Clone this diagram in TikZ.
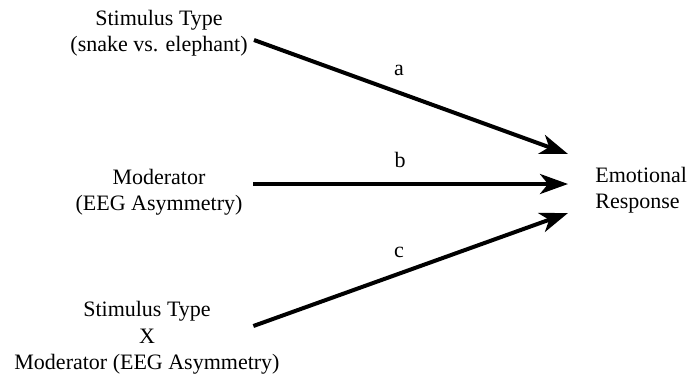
\documentclass[tikz,border=0pt]{standalone}
\usepackage{fontspec}
\setmainfont{Liberation Serif}
\usetikzlibrary{arrows.meta,positioning,calc}
\tikzset{
  var/.style={align=center, font=\fontsize{11}{13.25}\selectfont, inner sep=0pt},
  lbl/.style={font=\fontsize{11}{13.25}\selectfont, inner sep=0pt},
  link/.style={-{Stealth[length=14pt, width=10pt, inset=4pt]}, line width=2pt},
}

\begin{document}
\begin{tikzpicture}[x=0.5pt,y=-0.5pt]
  \useasboundingbox (0,0) rectangle (688,376);
  % predictors
  \node[var] (stim) at (159,33) {Stimulus Type\\(snake vs. elephant)};
  \node[var] (mod) at (159,192) {Moderator\\(EEG Asymmetry)};
  \node[var] (inter) at (147,338) {Stimulus Type\\X\\Moderator (EEG Asymmetry)};
  % outcome
  \node[var, align=left, anchor=west] (resp) at (595,190) {Emotional\\Response};
  % paths
  \draw[link] ([shift={(3pt,-3.5pt)}]stim.east) -- ([shift={(-13.5pt,18pt)}]resp.west);
  \draw[link] ([shift={(5.3pt,4pt)}]mod.east) -- ([shift={(-13.5pt,3pt)}]resp.west);
  \draw[link] ([shift={(-13.3pt,6pt)}]inter.east) -- ([shift={(-13.5pt,-11.5pt)}]resp.west);
  \node[lbl] (la) at (399,70) {a};
  \node[lbl] (lb) at (400,160) {b};
  \node[lbl] (lc) at (399,252) {c};
\end{tikzpicture}
\end{document}
